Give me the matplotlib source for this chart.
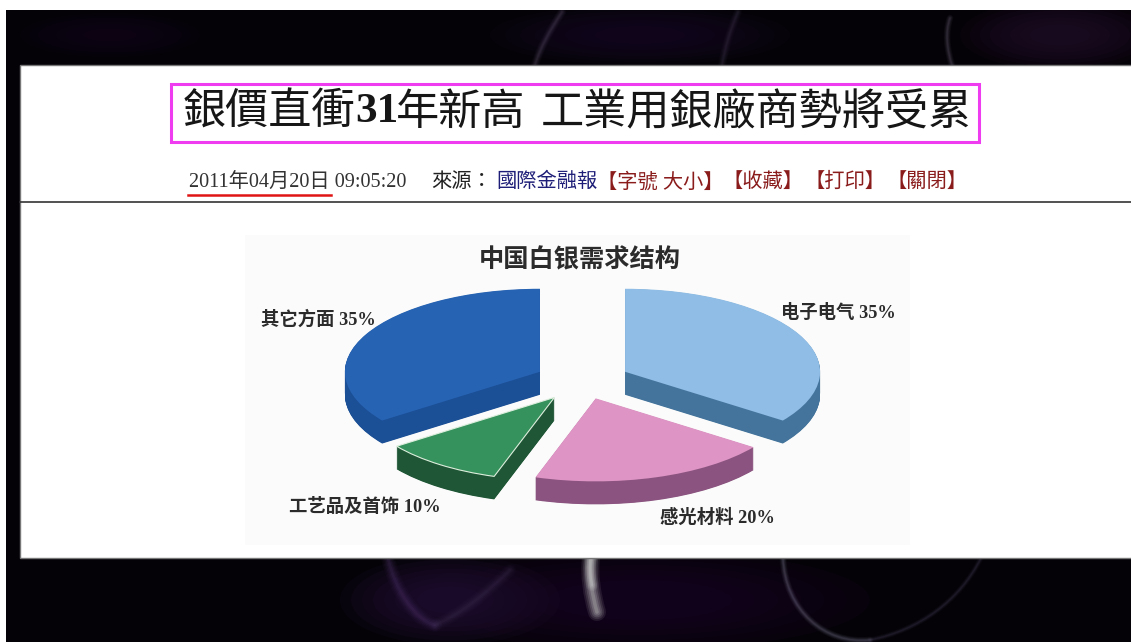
import matplotlib
matplotlib.use("Agg")
import matplotlib.pyplot as plt
from matplotlib.patches import Rectangle, Ellipse, PathPatch
from matplotlib.path import Path

W, H = 1131, 642
CJK_SERIF = ['Liberation Serif', 'Noto Sans CJK TC']
CJK_SC = ['Liberation Serif', 'Noto Sans CJK SC']

# --- data ---
categories = ['电子电气', '感光材料', '工艺品及首饰', '其它方面']
shares = [35, 20, 10, 35]
top_colors = ['#90BDE5', '#DE94C4', '#35925C', '#2763B3']
side_colors = ['#44749C', '#8B5480', '#1F5636', '#1B4F96']
explode = [0.245, 0.22, 0.245, 0.245]
label_x = [781, 660, 289, 261]
label_y = [313, 518, 507, 320]
chart_title = '中国白银需求结构'

fig = plt.figure(figsize=(W / 100, H / 100), dpi=100, facecolor='white')

# page layer in pixel coordinates
bg = fig.add_axes([0, 0, 1, 1])
bg.set_xlim(0, W)
bg.set_ylim(H, 0)
bg.axis('off')
dark = Rectangle((6, 10), W, H, fc='#040207', ec='none', zorder=0)
bg.add_patch(dark)


def glow(pts, color, peak=1.0, widest=14):
    codes = [Path.MOVETO] + [Path.CURVE4] * (len(pts) - 1)
    path = Path(pts, codes)
    for lw, a in [(widest, .05), (widest * .8, .06), (widest * .6, .08), (widest * .4, .10), (widest * .2, .12)]:
        p = PathPatch(path, fc='none', ec=color, lw=lw, alpha=min(a * peak, 1), capstyle='round', zorder=1)
        bg.add_patch(p)
        p.set_clip_path(dark)


for cx, cy, rx, ry, c in [(450, 600, 110, 45, '#2A1340'), (640, 600, 230, 50, '#1D0A2A'),
                          (1060, 35, 100, 35, '#25122F'), (640, 35, 150, 30, '#1A0C28'),
                          (110, 35, 90, 22, '#140A1C')]:
    for k in [1, .9, .8, .7, .6, .5, .4, .3]:
        e = Ellipse((cx, cy), rx * 2 * k, ry * 2 * k, fc=c, ec='none', alpha=.12, zorder=1)
        bg.add_patch(e)
        e.set_clip_path(dark)

glow([(591, 558), (589, 575), (592, 595), (597, 612)], '#C8C8C8', 2.2, 13)
glow([(591, 558), (589, 565), (590, 575), (592, 585)], '#D0D0D0', 1.8, 9)
glow([(783, 558), (785, 610), (825, 645), (870, 640)], '#8E8EA6', 1.0, 5)
glow([(870, 640), (920, 630), (960, 600), (981, 558)], '#5A4E70', 0.9, 4)
glow([(388, 558), (395, 590), (415, 620), (435, 625)], '#5E3F80', 1.0, 10)
glow([(435, 625), (460, 615), (490, 590), (510, 570)], '#4A3A60', 0.9, 9)
glow([(562, 12), (550, 30), (540, 48), (535, 65)], '#6A5A78', 1.0, 6)
glow([(738, 12), (730, 30), (725, 48), (722, 65)], '#4A3E58', 1.0, 6)
glow([(950, 18), (945, 32), (947, 50), (952, 65)], '#7A6E88', 1.0, 5)

# white page
bg.add_patch(Rectangle((20, 65), W, 493, fc='white', ec='#777777', lw=1, zorder=2))
bg.add_patch(Rectangle((245, 235), 665, 310, fc='#FAFBFA', ec='none', zorder=2))

# headline
TS = 31.1
tk = dict(va='center', ha='left', color='#161616', zorder=4)
bg.text(183, 113, '銀價直衝', fontsize=TS, family='Noto Sans CJK TC', **tk)
bg.text(355, 112, '31', fontsize=TS, family='Liberation Serif', weight='bold', **tk)
bg.text(396, 113, '年新高', fontsize=TS, family='Noto Sans CJK TC', **tk)
bg.text(541, 113, '工業用銀廠商勢將受累', fontsize=TS, family='Noto Sans CJK TC', **tk)
bg.add_patch(Rectangle((171, 84), 808, 58, fc='none', ec='#F03CF0', lw=2.2, zorder=4))

# byline
sk = dict(va='center', ha='left', fontsize=14.6, family=CJK_SERIF, zorder=4)
bg.text(189, 182.5, '2011年04月20日 09:05:20', color='#333333', **sk)
bg.text(431, 182.5, '來源：', color='#222222', **sk)
bg.text(496, 182.5, '國際金融報', color='#1E1E78', **sk)
bg.text(597, 182.5, '【字號 大小】', color='#8A1C1C', **sk)
bg.text(723, 182.5, '【收藏】', color='#8A1C1C', **sk)
bg.text(805, 182.5, '【打印】', color='#8A1C1C', **sk)
bg.text(887, 182.5, '【關閉】', color='#8A1C1C', **sk)
bg.plot([188, 331], [195, 195], color='#E01414', lw=1.8, zorder=4)
bg.plot([20, W], [201.5, 201.5], color='#333333', lw=1.2, zorder=4)

# chart title and labels
bg.text(580, 260, chart_title, ha='center', va='center', fontsize=18.2, weight='bold',
        family='Noto Sans CJK SC', color='#2B2B2B', zorder=4)
for name, val, x, y in zip(categories, shares, label_x, label_y):
    bg.text(x, y, f'{name} {val}%', ha='left', va='center', fontsize=13.2, weight='bold',
            family=CJK_SC, color='#2B2B2B', zorder=4)

# exploded pie, squashed and stacked for depth
RX, RY, CX, CY, DEPTH = 195, 83, 582.5, 381, 23
L = 1.7
pie = fig.add_axes([(CX - RX * L) / W, (H - CY - RY * L - DEPTH) / H,
                    2 * RX * L / W, (2 * RY * L + DEPTH) / H], facecolor='none', zorder=5)
d_units = DEPTH / RY
for step in range(DEPTH * 2, 0, -1):
    pie.pie(shares, explode=explode, colors=side_colors, startangle=90, counterclock=False,
            center=(0, -d_units * step / (DEPTH * 2)), wedgeprops=dict(lw=0))
wedges, _ = pie.pie(shares, explode=explode, colors=top_colors, startangle=90, counterclock=False,
                    center=(0, 0), wedgeprops=dict(lw=0))
wedges[2].set_edgecolor('#DDEEDD')
wedges[2].set_linewidth(0.8)
pie.set_aspect('auto')
pie.set_xlim(-L, L)
pie.set_ylim(-L - d_units, L)
pie.axis('off')

fig.savefig('out.png', dpi=100, facecolor=fig.get_facecolor())
